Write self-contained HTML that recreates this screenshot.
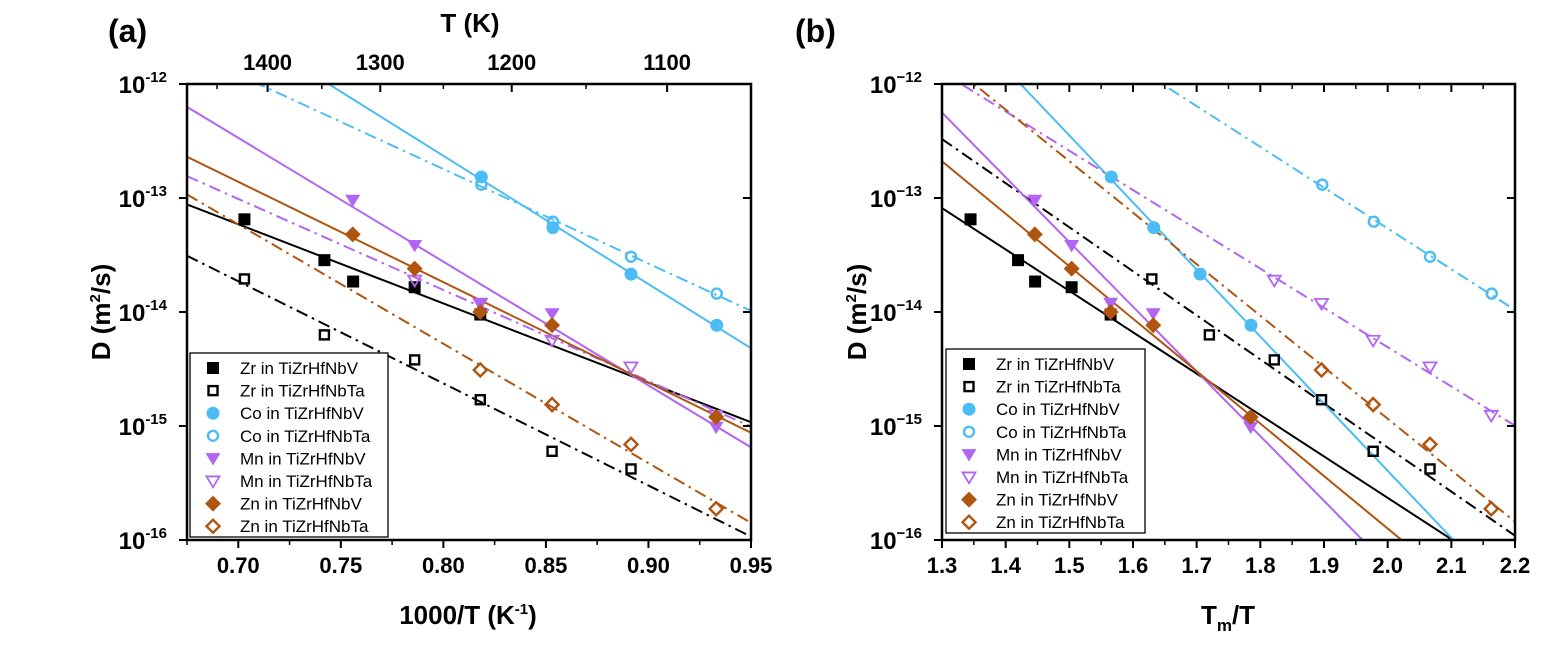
<!DOCTYPE html>
<html><head><meta charset="utf-8">
<style>
html,body{margin:0;padding:0;background:#fff;overflow:hidden;width:1560px;height:646px;}
svg{display:block;font-family:"Liberation Sans",Arial,sans-serif;}
</style></head>
<body>
<svg id="fig" width="1560" height="646" viewBox="0 0 1560 646" xmlns="http://www.w3.org/2000/svg"></svg>
<script>
// ---- data (1000/T in K^-1, D in m^2/s) ----
const zrV_x=[0.703,0.742,0.756,0.786,0.818];
const zrV_y=[6.5e-14,2.85e-14,1.85e-14,1.65e-14,9.5e-15];
const zrTa_x=[0.703,0.742,0.786,0.818,0.853,0.8915];
const zrTa_y=[1.95e-14,6.3e-15,3.8e-15,1.7e-15,6.0e-16,4.2e-16];
const coV_x=[0.8185,0.8534,0.8915,0.9333];
const coV_y=[1.53e-13,5.5e-14,2.15e-14,7.65e-15];
const coTa_x=[0.8185,0.8534,0.8915,0.9333];
const coTa_y=[1.31e-13,6.2e-14,3.05e-14,1.45e-14];
const mnV_x=[0.7558,0.786,0.818,0.853,0.933];
const mnV_y=[9.6e-14,3.85e-14,1.2e-14,9.7e-15,9.8e-16];
const mnTa_x=[0.786,0.818,0.853,0.8915,0.933];
const mnTa_y=[1.9e-14,1.19e-14,5.65e-15,3.3e-15,1.24e-15];
const znV_x=[0.7558,0.786,0.818,0.853,0.933];
const znV_y=[4.8e-14,2.4e-14,1.0e-14,7.65e-15,1.2e-15];
const znTa_x=[0.818,0.853,0.8915,0.933];
const znTa_y=[3.1e-15,1.54e-15,6.9e-16,1.88e-16];
// melting temperatures (K)
const TmV=1913, TmTa=2318;
const seriesNames=["Zr in TiZrHfNbV","Zr in TiZrHfNbTa","Co in TiZrHfNbV","Co in TiZrHfNbTa","Mn in TiZrHfNbV","Mn in TiZrHfNbTa","Zn in TiZrHfNbV","Zn in TiZrHfNbTa"];
const topTickLabels=[1400,1300,1200,1100];
const topMinorT=[1450,1350,1250,1150];
const leftXTicks=[0.70,0.75,0.80,0.85,0.90,0.95];
const rightXTicks=[1.3,1.4,1.5,1.6,1.7,1.8,1.9,2.0,2.1,2.2];
const yDecades=[-12,-13,-14,-15,-16];

const NS="http://www.w3.org/2000/svg";
const svg=document.getElementById('fig');
function el(tag,attrs,parent,text){const e=document.createElementNS(NS,tag);for(const k in attrs)e.setAttribute(k,attrs[k]);if(text!==undefined)e.textContent=text;(parent||svg).appendChild(e);return e;}

const colors={Zr:"#000000",Co:"#4cbcf4",Mn:"#b265f2",Zn:"#b0550f"};
const series=[
 {x:zrV_x,y:zrV_y,c:colors.Zr,m:"square",fill:true,tm:TmV,key:"zr-v"},
 {x:zrTa_x,y:zrTa_y,c:colors.Zr,m:"square",fill:false,tm:TmTa,key:"zr-ta"},
 {x:coV_x,y:coV_y,c:colors.Co,m:"circle",fill:true,tm:TmV,key:"co-v"},
 {x:coTa_x,y:coTa_y,c:colors.Co,m:"circle",fill:false,tm:TmTa,key:"co-ta"},
 {x:mnV_x,y:mnV_y,c:colors.Mn,m:"tri",fill:true,tm:TmV,key:"mn-v"},
 {x:mnTa_x,y:mnTa_y,c:colors.Mn,m:"tri",fill:false,tm:TmTa,key:"mn-ta"},
 {x:znV_x,y:znV_y,c:colors.Zn,m:"diamond",fill:true,tm:TmV,key:"zn-v"},
 {x:znTa_x,y:znTa_y,c:colors.Zn,m:"diamond",fill:false,tm:TmTa,key:"zn-ta"}
];

function fit(xs,ys){const n=xs.length;let sx=0,sy=0,sxx=0,sxy=0;for(let i=0;i<n;i++){const l=Math.log10(ys[i]);sx+=xs[i];sy+=l;sxx+=xs[i]*xs[i];sxy+=xs[i]*l;}const b=(n*sxy-sx*sy)/(n*sxx-sx*sx);return{a:(sy-b*sx)/n,b:b};}

function marker(g,m,cx,cy,c,fill,name){
 const sw=2.4;let e;
 if(m==="square"){const s=fill?12:9;e=el('rect',{x:cx-s/2,y:cy-s/2,width:s,height:s,fill:fill?c:'none',stroke:c,'stroke-width':fill?0:sw},g);}
 else if(m==="circle"){const r=fill?6.5:5;e=el('circle',{cx:cx,cy:cy,r:r,fill:fill?c:'none',stroke:c,'stroke-width':fill?0:sw},g);}
 else if(m==="tri"){const s=fill?7.5:6.5;e=el('polygon',{points:`${cx-s},${cy-s*0.7} ${cx+s},${cy-s*0.7} ${cx},${cy+s*0.95}`,fill:fill?c:'none',stroke:c,'stroke-width':fill?0:1.8},g);}
 else {const s=fill?8:6.5;e=el('polygon',{points:`${cx},${cy-s} ${cx+s},${cy} ${cx},${cy+s} ${cx-s},${cy}`,fill:fill?c:'none',stroke:c,'stroke-width':fill?0:sw},g);}
 
 
 return e;
}

function panel(opt){
 const {L,R,T,B,xmin,xmax,id}=opt;
 const sx=v=>L+(v-xmin)/(xmax-xmin)*(R-L);
 const sy=v=>T+(-12-Math.log10(v))/4*(B-T);
 const g=el('g',{});
 
 
 const cp=el('clipPath',{id:'clip-'+id},g);el('rect',{x:L,y:T,width:R-L,height:B-T},cp);
 const lines=el('g',{'clip-path':`url(#clip-${id})`},g);
 series.forEach((s,i)=>{
  const xs=s.x.map(v=>opt.tx(v,s));
  const f=fit(xs,s.y);
  const x0=xmin,x1=xmax;
  const ln=el('line',{x1:sx(x0),y1:sy(Math.pow(10,f.a+f.b*x0)),x2:sx(x1),y2:sy(Math.pow(10,f.a+f.b*x1)),stroke:s.c,'stroke-width':2,'stroke-dasharray':s.fill?'none':'12,5,2.5,5'},lines);
  
  
 });
 series.forEach((s,i)=>{
  s.x.forEach((v,j)=>{marker(g,s.m,sx(opt.tx(v,s)),sy(s.y[j]),s.c,s.fill,s.key+'-point');});
 });
 const fr=el('rect',{x:L,y:T,width:R-L,height:B-T,fill:'none',stroke:'#000','stroke-width':2.5},g);
 
 
 yDecades.forEach(d=>{
  const y=sy(Math.pow(10,d));
  el('line',{x1:L-8,y1:y,x2:L,y2:y,stroke:'#000','stroke-width':2},g);
  el('line',{x1:R,y1:y,x2:R-8,y2:y,stroke:'#000','stroke-width':2},g);
  if(d>-12){for(let k=2;k<=9;k++){const yy=sy(k*Math.pow(10,d));el('line',{x1:L,y1:yy,x2:L+5,y2:yy,stroke:'#000','stroke-width':1.5},g);el('line',{x1:R,y1:yy,x2:R-5,y2:yy,stroke:'#000','stroke-width':1.5},g);}}
  const t=el('text',{x:L-20,y:y+9,'text-anchor':'end','font-size':24,'font-weight':'bold'},g);
  
  
  el('tspan',{},t,'10');
  el('tspan',{dy:-11,'font-size':15},t,opt.minus?'\u2212'+(-d):''+d);
 });
 opt.xticks.forEach(v=>{
  const x=sx(v);
  el('line',{x1:x,y1:B,x2:x,y2:B+8,stroke:'#000','stroke-width':2},g);
  if(opt.mirrorTop)el('line',{x1:x,y1:T,x2:x,y2:T+8,stroke:'#000','stroke-width':2},g);
  const t=el('text',{x:x,y:B+33,'text-anchor':'middle','font-size':22,'font-weight':'bold'},g,v.toFixed(opt.dec));
  
  
 });
 opt.xminor.forEach(v=>{const x=sx(v);el('line',{x1:x,y1:B,x2:x,y2:B+5,stroke:'#000','stroke-width':1.5},g);if(opt.mirrorTop)el('line',{x1:x,y1:T,x2:x,y2:T+5,stroke:'#000','stroke-width':1.5},g);});
 const lg=el('g',{},g);
 
 
 el('rect',{x:opt.lgx,y:opt.lgy,width:opt.lgw,height:184,fill:'#fff',stroke:'#000','stroke-width':1.3},lg);
 series.forEach((s,i)=>{
  const yy=opt.lgy+15+i*22.6;
  marker(lg,s.m,opt.lgx+23,yy,s.c,s.fill,s.key+'-legend-marker');
  const t=el('text',{x:opt.lgx+50,y:yy+6,'font-size':17},lg,seriesNames[i]);
  
  
 });
 return {sx,sy,g};
}

const A=panel({id:'a',L:187,R:751,T:84,B:540,xmin:0.675,xmax:0.95,tx:(v)=>v,xticks:leftXTicks,dec:2,
 xminor:[0.675,0.725,0.775,0.825,0.875,0.925],mirrorTop:false,minus:false,lgx:190,lgy:353,lgw:198});
topTickLabels.forEach(T=>{
 const x=A.sx(1000/T);
 el('line',{x1:x,y1:84,x2:x,y2:92,stroke:'#000','stroke-width':2},A.g);
 const t=el('text',{x:x,y:70,'text-anchor':'middle','font-size':22,'font-weight':'bold'},A.g,''+T);
 
 
});
topMinorT.forEach(T=>{const x=A.sx(1000/T);el('line',{x1:x,y1:84,x2:x,y2:89,stroke:'#000','stroke-width':1.5},A.g);});

const Bp=panel({id:'b',L:942,R:1515,T:84,B:540,xmin:1.3,xmax:2.2,tx:(v,s)=>v*s.tm/1000,xticks:rightXTicks,dec:1,
 xminor:[1.35,1.45,1.55,1.65,1.75,1.85,1.95,2.05,2.15],mirrorTop:true,minus:true,lgx:946,lgy:349,lgw:199});

function label(txt,attrs,name){const t=el('text',attrs,svg,txt);return t;}
label('(a)',{x:108,y:42,'font-size':32,'font-weight':'bold'},'panel-a-label');
label('(b)',{x:795,y:42,'font-size':32,'font-weight':'bold'},'panel-b-label');
label('T (K)',{x:470,y:32,'text-anchor':'middle','font-size':26,'font-weight':'bold'},'top-x-axis-title');
const xa=label('',{x:468,y:624,'text-anchor':'middle','font-size':26,'font-weight':'bold'},'x-axis-title-a');
el('tspan',{},xa,'1000/T (K');el('tspan',{dy:-10,'font-size':15},xa,'-1');el('tspan',{dy:10},xa,')');
const xb=label('',{x:1228,y:624,'text-anchor':'middle','font-size':26,'font-weight':'bold'},'x-axis-title-b');
el('tspan',{},xb,'T');el('tspan',{dy:7,'font-size':17},xb,'m');el('tspan',{dy:-7},xb,'/T');
[[110,'y-axis-title-a'],[866,'y-axis-title-b']].forEach(([x,n])=>{
 const t=label('',{x:0,y:0,transform:`translate(${x},312) rotate(-90)`,'text-anchor':'middle','font-size':26,'font-weight':'bold'},n);
 el('tspan',{},t,'D (m');el('tspan',{dy:-10,'font-size':15},t,'2');el('tspan',{dy:10},t,'/s)');
});
</script>
</body></html>
